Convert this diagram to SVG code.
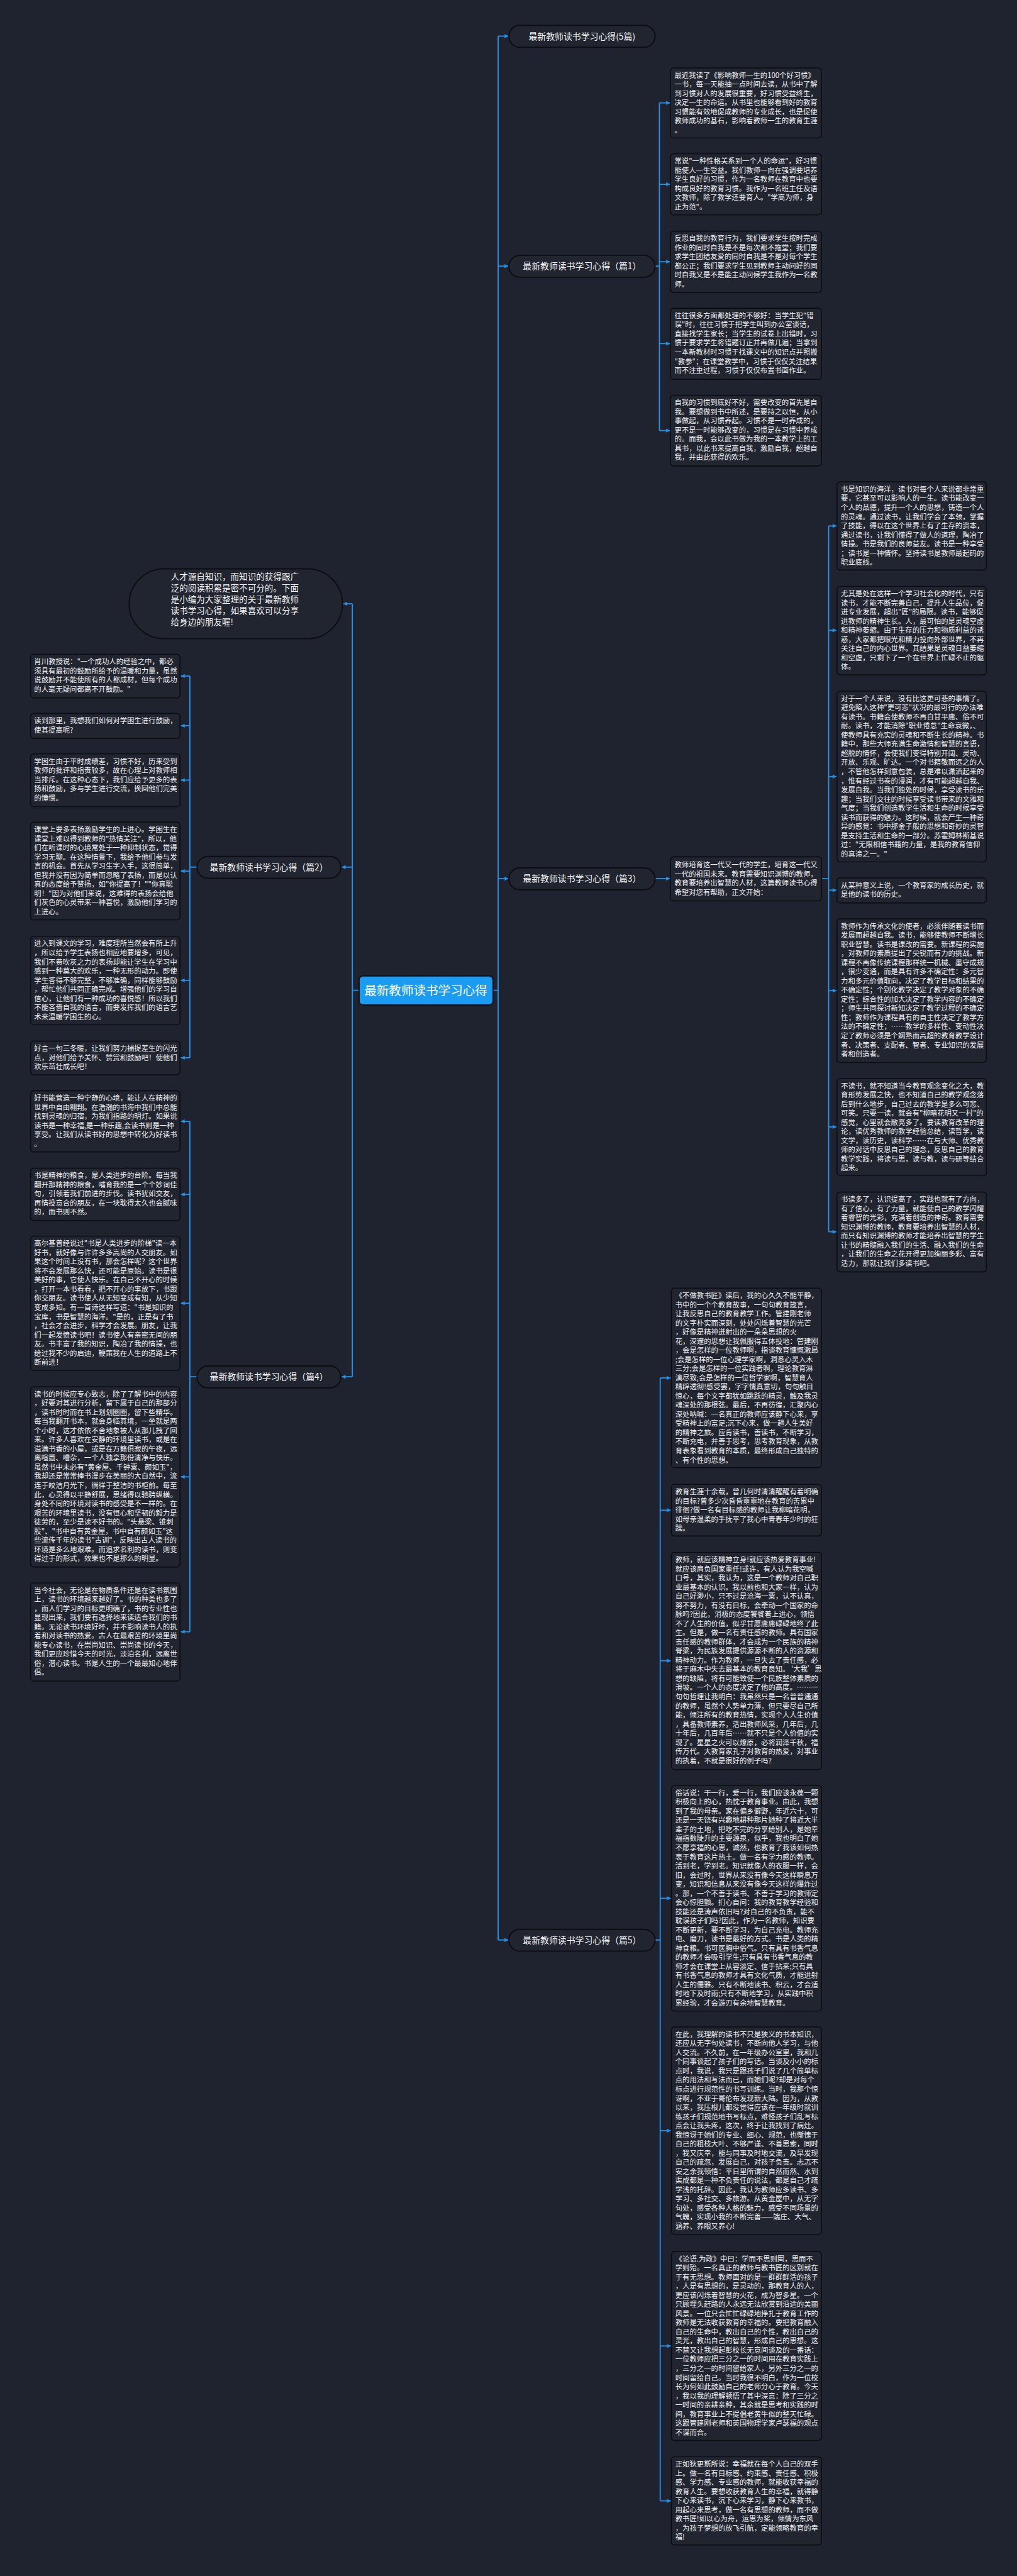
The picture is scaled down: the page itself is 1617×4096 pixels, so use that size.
<svg xmlns="http://www.w3.org/2000/svg" width="1617" height="4096" viewBox="0 0 1617 4096">
<defs>
<style>
.bg{fill:#1f2330}
.box{fill:#21252f;stroke:#0b0d12;stroke-width:2.5}
.pill{fill:#21252f;stroke:#0b0d12;stroke-width:3}
.t{font-family:"Noto Sans CJK SC","Noto Sans",sans-serif;font-size:18px;fill:#f2f3f5}
.it{font-family:"Noto Sans CJK SC","Noto Sans",sans-serif;font-size:21.5px;fill:#f2f3f5}
.lt{font-family:"Noto Sans CJK SC","Noto Sans",sans-serif;font-size:22px;fill:#f2f3f5;text-anchor:middle}
.ct{font-family:"Noto Sans CJK SC","Noto Sans",sans-serif;font-size:31px;fill:#ffffff;text-anchor:middle}
.conn{stroke:#2590e8;stroke-width:3;fill:none}
.arr{stroke:#2590e8;stroke-width:3;fill:none;marker-end:url(#ah)}
</style>
<marker id="ah" viewBox="0 0 10 10" refX="10" refY="5" markerWidth="12" markerHeight="10" markerUnits="userSpaceOnUse" orient="auto"><path d="M0,0 L10,5 L0,10 z" fill="#2590e8"/></marker>
</defs>
<rect class="bg" x="0" y="0" width="1617" height="4096"/>
<g transform="scale(0.6316)">

<g id="connectors">
<path class="conn" d="M904,2493 H887 M887,1520 V3466"/>
<path class="arr" d="M887,1520 H864"/>
<path class="arr" d="M887,2183 H860"/>
<path class="arr" d="M887,3466 H860"/>
<path class="conn" d="M1241,2493 H1254 M1254,91 V4884"/>
<path class="arr" d="M1254,91 H1280"/>
<path class="arr" d="M1254,670 H1280"/>
<path class="arr" d="M1254,2212 H1280"/>
<path class="arr" d="M1254,4884 H1280"/>
<path class="conn" d="M1649,670 H1660 M1660,259 V1084"/>
<path class="arr" d="M1660,259 H1687"/>
<path class="arr" d="M1660,464 H1687"/>
<path class="arr" d="M1660,659 H1687"/>
<path class="arr" d="M1660,865 H1687"/>
<path class="arr" d="M1660,1084 H1687"/>
<path class="arr" d="M1649,2212 H1687"/>
<path class="conn" d="M2068,2212 H2086 M2086,1324 V3101"/>
<path class="arr" d="M2086,1324 H2106"/>
<path class="arr" d="M2086,1587 H2106"/>
<path class="arr" d="M2086,1955 H2106"/>
<path class="arr" d="M2086,2241 H2106"/>
<path class="arr" d="M2086,2494 H2106"/>
<path class="arr" d="M2086,2837 H2106"/>
<path class="arr" d="M2086,3101 H2106"/>
<path class="conn" d="M1649,4884 H1662 M1662,3469 V6296"/>
<path class="arr" d="M1662,3469 H1689"/>
<path class="arr" d="M1662,3802 H1689"/>
<path class="arr" d="M1662,4181 H1689"/>
<path class="arr" d="M1662,4779 H1689"/>
<path class="arr" d="M1662,5364 H1689"/>
<path class="arr" d="M1662,5906 H1689"/>
<path class="arr" d="M1662,6296 H1689"/>
<path class="conn" d="M496,2183 H478 M478,1702 V2663"/>
<path class="arr" d="M478,1702 H455"/>
<path class="arr" d="M478,1827 H455"/>
<path class="arr" d="M478,1964 H455"/>
<path class="arr" d="M478,2193 H455"/>
<path class="arr" d="M478,2468 H455"/>
<path class="arr" d="M478,2663 H455"/>
<path class="conn" d="M496,3466 H478 M478,2823 V4108"/>
<path class="arr" d="M478,2823 H455"/>
<path class="arr" d="M478,3007 H455"/>
<path class="arr" d="M478,3281 H455"/>
<path class="arr" d="M478,3718 H455"/>
<path class="arr" d="M478,4108 H455"/>
</g>

<g id="center">
<rect x="904" y="2457" width="337" height="73" rx="10" fill="#1a9cf2" stroke="#0b0d12" stroke-width="3"/>
<text class="ct" x="1072" y="2504">最新教师读书学习心得</text>
</g>

<g id="intro">
<rect class="pill" x="325" y="1432" width="537" height="176" rx="88"/>
<text class="it" x="430" y="1460"><tspan x="430" dy="0">人才源自知识，而知识的获得跟广</tspan><tspan x="430" dy="28.3">泛的阅读积累是密不可分的。下面</tspan><tspan x="430" dy="28.3">是小编为大家整理的关于最新教师</tspan><tspan x="430" dy="28.3">读书学习心得，如果喜欢可以分享</tspan><tspan x="430" dy="28.3">给身边的朋友喔!</tspan></text>
</g>

<g id="label-5pian"><rect class="pill" x="1281" y="64" width="368" height="55" rx="27.5"/><text class="lt" x="1465" y="99">最新教师读书学习心得(5篇)</text></g>
<g id="label-p1"><rect class="pill" x="1281" y="643" width="368" height="55" rx="27.5"/><text class="lt" x="1465" y="678">最新教师读书学习心得（篇1）</text></g>
<g id="label-p3"><rect class="pill" x="1281" y="2185" width="368" height="55" rx="27.5"/><text class="lt" x="1465" y="2220">最新教师读书学习心得（篇3）</text></g>
<g id="label-p5"><rect class="pill" x="1281" y="4857" width="368" height="55" rx="27.5"/><text class="lt" x="1465" y="4892">最新教师读书学习心得（篇5）</text></g>
<g id="label-p2"><rect class="pill" x="496" y="2156" width="362" height="55" rx="27.5"/><text class="lt" x="677" y="2191">最新教师读书学习心得（篇2）</text></g>
<g id="label-p4"><rect class="pill" x="496" y="3439" width="362" height="55" rx="27.5"/><text class="lt" x="677" y="3474">最新教师读书学习心得（篇4）</text></g>

<g id="p1-1"><rect class="box" x="1688" y="171" width="380" height="176" rx="8"/><text class="t" x="1698" y="196"><tspan x="1698" dy="0">最近我读了《影响教师一生的100个好习惯》</tspan><tspan x="1698" dy="23">一书，每一天能抽一点时间去读，从书中了解</tspan><tspan x="1698" dy="23">到习惯对人的发展很重要，好习惯受益终生，</tspan><tspan x="1698" dy="23">决定一生的命运。从书里也能够看到好的教育</tspan><tspan x="1698" dy="23">习惯能有效地促成教师的专业成长，也是促使</tspan><tspan x="1698" dy="23">教师成功的基石，影响着教师一生的教育生涯</tspan><tspan x="1698" dy="23">。</tspan></text></g>
<g id="p1-2"><rect class="box" x="1688" y="387" width="380" height="154" rx="8"/><text class="t" x="1698" y="412"><tspan x="1698" dy="0">常说"一种性格关系到一个人的命运"，好习惯</tspan><tspan x="1698" dy="23">能使人一生受益。我们教师一向在强调要培养</tspan><tspan x="1698" dy="23">学生良好的习惯，作为一名教师在教育中也要</tspan><tspan x="1698" dy="23">构成良好的教育习惯。我作为一名班主任及语</tspan><tspan x="1698" dy="23">文教师，除了教学还要育人。"学高为师，身</tspan><tspan x="1698" dy="23">正为范"。</tspan></text></g>
<g id="p1-3"><rect class="box" x="1688" y="582" width="380" height="154" rx="8"/><text class="t" x="1698" y="607"><tspan x="1698" dy="0">反思自我的教育行为，我们要求学生按时完成</tspan><tspan x="1698" dy="23">作业的同时自我是不是每次都不拖堂；我们要</tspan><tspan x="1698" dy="23">求学生团结友爱的同时自我是不是对每个学生</tspan><tspan x="1698" dy="23">都公正；我们要求学生见到教师主动问好的同</tspan><tspan x="1698" dy="23">时自我又是不是能主动问候学生我作为一名教</tspan><tspan x="1698" dy="23">师。</tspan></text></g>
<g id="p1-4"><rect class="box" x="1688" y="776" width="380" height="179" rx="8"/><text class="t" x="1698" y="801"><tspan x="1698" dy="0">往往很多方面都处理的不够好：当学生犯"错</tspan><tspan x="1698" dy="23">误"时，往往习惯于把学生叫到办公室谈话，</tspan><tspan x="1698" dy="23">直接找学生家长；当学生的试卷上出错时，习</tspan><tspan x="1698" dy="23">惯于要求学生将错题订正并再做几遍；当拿到</tspan><tspan x="1698" dy="23">一本新教材时习惯于找课文中的知识点并照搬</tspan><tspan x="1698" dy="23">"教参"；在课堂教学中，习惯于仅仅关注结果</tspan><tspan x="1698" dy="23">而不注重过程，习惯于仅仅布置书面作业。</tspan></text></g>
<g id="p1-5"><rect class="box" x="1688" y="995" width="380" height="178" rx="8"/><text class="t" x="1698" y="1020"><tspan x="1698" dy="0">自我的习惯到底好不好，需要改变的首先是自</tspan><tspan x="1698" dy="23">我。要想做到书中所述，是要持之以恒，从小</tspan><tspan x="1698" dy="23">事做起，从习惯养起。习惯不是一时养成的，</tspan><tspan x="1698" dy="23">更不是一时能够改变的，习惯是在习惯中养成</tspan><tspan x="1698" dy="23">的。而我，会以此书做为我的一本教学上的工</tspan><tspan x="1698" dy="23">具书，以此书来提高自我，激励自我，超越自</tspan><tspan x="1698" dy="23">我，并由此获得的欢乐。</tspan></text></g>

<g id="p3-desc"><rect class="box" x="1688" y="2157" width="380" height="111" rx="8"/><text class="t" x="1698" y="2184"><tspan x="1698" dy="0">教师培育这一代又一代的学生，培育这一代又</tspan><tspan x="1698" dy="23">一代的祖国未来。教育需要知识渊博的教师，</tspan><tspan x="1698" dy="23">教育要培养出智慧的人材，这篇教师读书心得</tspan><tspan x="1698" dy="23">希望对您有帮助，正文开始：</tspan></text></g>

<g id="p3-1"><rect class="box" x="2107" y="1213" width="376" height="222" rx="8"/><text class="t" x="2117" y="1238"><tspan x="2117" dy="0">书是知识的海洋，读书对每个人来说都非常重</tspan><tspan x="2117" dy="23">要，它甚至可以影响人的一生。读书能改变一</tspan><tspan x="2117" dy="23">个人的品德，提升一个人的思想，铸造一个人</tspan><tspan x="2117" dy="23">的灵魂。通过读书，让我们学会了本领，掌握</tspan><tspan x="2117" dy="23">了技能，得以在这个世界上有了生存的资本，</tspan><tspan x="2117" dy="23">通过读书，让我们懂得了做人的道理，陶冶了</tspan><tspan x="2117" dy="23">情操。书是我们的良师益友。读书是一种享受</tspan><tspan x="2117" dy="23">；读书是一种情怀。坚持读书是教师最起码的</tspan><tspan x="2117" dy="23">职业底线。</tspan></text></g>
<g id="p3-2"><rect class="box" x="2107" y="1476" width="376" height="223" rx="8"/><text class="t" x="2117" y="1501"><tspan x="2117" dy="0">尤其是处在这样一个学习社会化的时代，只有</tspan><tspan x="2117" dy="23">读书，才能不断完善自己，提升人生品位，促</tspan><tspan x="2117" dy="23">进专业发展，超出"匠"的局限。读书，能够促</tspan><tspan x="2117" dy="23">进教师的精神生长。人，最可怕的是灵魂空虚</tspan><tspan x="2117" dy="23">和精神萎缩。由于生存的压力和物质利益的诱</tspan><tspan x="2117" dy="23">惑，大家都把眼光和精力投向外部世界，不再</tspan><tspan x="2117" dy="23">关注自己的内心世界。其结果是灵魂日益萎缩</tspan><tspan x="2117" dy="23">和空虚，只剩下了一个在世界上忙碌不止的躯</tspan><tspan x="2117" dy="23">体。</tspan></text></g>
<g id="p3-3"><rect class="box" x="2107" y="1740" width="376" height="430" rx="8"/><text class="t" x="2117" y="1765"><tspan x="2117" dy="0">对于一个人来说，没有比这更可悲的事情了。</tspan><tspan x="2117" dy="23">避免陷入这种"更可悲"状况的最可行的办法唯</tspan><tspan x="2117" dy="23">有读书。书籍会使教师不再自甘平庸、俗不可</tspan><tspan x="2117" dy="23">耐。读书，才能消除"职业倦怠"生命衰微，、</tspan><tspan x="2117" dy="23">使教师具有充实的灵魂和不断生长的精神。书</tspan><tspan x="2117" dy="23">籍中，那些大师充满生命激情和智慧的言语，</tspan><tspan x="2117" dy="23">超脱的情怀，会使我们变得特别开阔、灵动、</tspan><tspan x="2117" dy="23">开放、乐观、旷达。一个对书籍敬而远之的人</tspan><tspan x="2117" dy="23">，不管他怎样刻意包装，总是难以潇洒起来的</tspan><tspan x="2117" dy="23">，惟有经过书卷的浸润，才有可能超越自我、</tspan><tspan x="2117" dy="23">发展自我。当我们独处的时候，享受读书的乐</tspan><tspan x="2117" dy="23">趣；当我们交往的时候享受读书带来的文雅和</tspan><tspan x="2117" dy="23">气度；当我们创造教学生活和生命的时候享受</tspan><tspan x="2117" dy="23">读书而获得的魅力。这时候，就会产生一种奇</tspan><tspan x="2117" dy="23">异的感觉：书中那金子般的思想和奇妙的灵智</tspan><tspan x="2117" dy="23">是支持生活和生命的一部分。苏霍姆林斯基说</tspan><tspan x="2117" dy="23">过："无限相信书籍的力量，是我的教育信仰</tspan><tspan x="2117" dy="23">的真谛之一。"</tspan></text></g>
<g id="p3-4"><rect class="box" x="2107" y="2210" width="376" height="63" rx="8"/><text class="t" x="2117" y="2235"><tspan x="2117" dy="0">从某种意义上说，一个教育家的成长历史，就</tspan><tspan x="2117" dy="23">是他的读书的历史。</tspan></text></g>
<g id="p3-5"><rect class="box" x="2107" y="2313" width="376" height="362" rx="8"/><text class="t" x="2117" y="2338"><tspan x="2117" dy="0">教师作为传承文化的使者，必须伴随着读书而</tspan><tspan x="2117" dy="23">发展而超越自我。读书，能够使教师不断增长</tspan><tspan x="2117" dy="23">职业智慧。读书是课改的需要。新课程的实施</tspan><tspan x="2117" dy="23">，对教师的素质提出了尖锐而有力的挑战。新</tspan><tspan x="2117" dy="23">课程不再像传统课程那样统一机械、墨守成规</tspan><tspan x="2117" dy="23">，很少变通，而是具有许多不确定性：多元智</tspan><tspan x="2117" dy="23">力和多元价值取向，决定了教学目标和结果的</tspan><tspan x="2117" dy="23">不确定性；个别化教学决定了教学对象的不确</tspan><tspan x="2117" dy="23">定性；综合性的加大决定了教学内容的不确定</tspan><tspan x="2117" dy="23">；师生共同探讨新知决定了教学过程的不确定</tspan><tspan x="2117" dy="23">性；教师作为课程具有的自主性决定了教学方</tspan><tspan x="2117" dy="23">法的不确定性；……教学的多样性、变动性决</tspan><tspan x="2117" dy="23">定了教师必须是个娴熟而高超的教育教学设计</tspan><tspan x="2117" dy="23">者、决策者、支配者、智者、专业知识的发展</tspan><tspan x="2117" dy="23">者和创造者。</tspan></text></g>
<g id="p3-6"><rect class="box" x="2107" y="2715" width="376" height="245" rx="8"/><text class="t" x="2117" y="2740"><tspan x="2117" dy="0">不读书，就不知道当今教育观念变化之大，教</tspan><tspan x="2117" dy="23">育形势发展之快，也不知道自己的教学观念落</tspan><tspan x="2117" dy="23">后到什么地步，自己过去的教学是多么可悲、</tspan><tspan x="2117" dy="23">可笑。只要一读，就会有"柳暗花明又一村"的</tspan><tspan x="2117" dy="23">感觉，心里就会敞亮多了。要读教育改革的理</tspan><tspan x="2117" dy="23">论，读优秀教师的教学经验总结，读哲学，读</tspan><tspan x="2117" dy="23">文学，读历史，读科学……在与大师、优秀教</tspan><tspan x="2117" dy="23">师的对话中反思自己的理念，反思自己的教育</tspan><tspan x="2117" dy="23">教学实践，将读与思，读与教，读与研等结合</tspan><tspan x="2117" dy="23">起来。</tspan></text></g>
<g id="p3-7"><rect class="box" x="2107" y="3001" width="376" height="201" rx="8"/><text class="t" x="2117" y="3026"><tspan x="2117" dy="0">书读多了，认识提高了，实践也就有了方向，</tspan><tspan x="2117" dy="23">有了信心，有了力量，就能使自己的教学闪耀</tspan><tspan x="2117" dy="23">着睿智的光彩，充满着创造的神奇。教育需要</tspan><tspan x="2117" dy="23">知识渊博的教师，教育要培养出智慧的人材，</tspan><tspan x="2117" dy="23">而只有知识渊博的教师才能培养出智慧的学生</tspan><tspan x="2117" dy="23">让书的精髓融入我们的生活、融入我们的生命</tspan><tspan x="2117" dy="23">，让我们的生命之花开得更加绚丽多彩、富有</tspan><tspan x="2117" dy="23">活力，那就让我们多读书吧。</tspan></text></g>

<g id="p5-1"><rect class="box" x="1690" y="3243" width="378" height="452" rx="8"/><text class="t" x="1700" y="3268"><tspan x="1700" dy="0">《不做教书匠》读后，我的心久久不能平静，</tspan><tspan x="1700" dy="23">书中的一个个教育故事，一句句教育箴言，</tspan><tspan x="1700" dy="23">让我反思自己的教育教学工作。管建刚老师</tspan><tspan x="1700" dy="23">的文字朴实而深刻，处处闪烁着智慧的光芒</tspan><tspan x="1700" dy="23">，好像是精神迸射出的一朵朵思想的火</tspan><tspan x="1700" dy="23">花，深邃的思想让我佩服得五体投地：管建刚</tspan><tspan x="1700" dy="23">，会是怎样的一位教师啊，指谈教育慷慨激昂</tspan><tspan x="1700" dy="23">;会是怎样的一位心理学家啊，洞悉心灵入木</tspan><tspan x="1700" dy="23">三分;会是怎样的一位实践者啊，理论教育淋</tspan><tspan x="1700" dy="23">漓尽致;会是怎样的一位哲学家啊，智慧育人</tspan><tspan x="1700" dy="23">精辟透彻!感受罢，字字情真意切，句句触目</tspan><tspan x="1700" dy="23">惊心，每个文字都犹如跳跃的精灵，触及我灵</tspan><tspan x="1700" dy="23">魂深处的那根弦。最后，不再彷徨，汇聚内心</tspan><tspan x="1700" dy="23">深处呐喊：一名真正的教师应该静下心来，享</tspan><tspan x="1700" dy="23">受精神上的富足;沉下心来，做一趟人生美好</tspan><tspan x="1700" dy="23">的精神之旅。应肯读书，善读书，不断学习，</tspan><tspan x="1700" dy="23">不断充电，并善于思考，思考教育现象，从教</tspan><tspan x="1700" dy="23">育表象看到教育的本质，最终形成自己独特的</tspan><tspan x="1700" dy="23">、有个性的思想。</tspan></text></g>
<g id="p5-2"><rect class="box" x="1690" y="3737" width="378" height="130" rx="8"/><text class="t" x="1700" y="3762"><tspan x="1700" dy="0">教育生涯十余载，曾几何时清清醒醒有着明确</tspan><tspan x="1700" dy="23">的目标?曾多少次昏昏噩噩地在教育的苦累中</tspan><tspan x="1700" dy="23">徘徊?做一名有目标感的教师让我柳暗花明，</tspan><tspan x="1700" dy="23">如母亲温柔的手抚平了我心中青春年少时的狂</tspan><tspan x="1700" dy="23">躁。</tspan></text></g>
<g id="p5-3"><rect class="box" x="1690" y="3908" width="378" height="547" rx="8"/><text class="t" x="1700" y="3933"><tspan x="1700" dy="0">教师，就应该精神立身!就应该热爱教育事业!</tspan><tspan x="1700" dy="23">就应该肩负国家重任!或许，有人认为我空喊</tspan><tspan x="1700" dy="23">口号，其实，我认为，这是一个教师对自己职</tspan><tspan x="1700" dy="23">业最基本的认识。我以前也和大家一样，认为</tspan><tspan x="1700" dy="23">自己好渺小，只不过是沧海一粟，认不认真，</tspan><tspan x="1700" dy="23">努不努力，有没有目标，会牵动一个国家的命</tspan><tspan x="1700" dy="23">脉吗?因此，消极的态度饕餮着上进心，领悟</tspan><tspan x="1700" dy="23">不了人生的价值，似乎甘愿庸庸碌碌地终了此</tspan><tspan x="1700" dy="23">生。但是，做一名有责任感的教师。具有国家</tspan><tspan x="1700" dy="23">责任感的教师群体，才会成为一个民族的精神</tspan><tspan x="1700" dy="23">脊梁，为民族发展提供源源不断的人的资源和</tspan><tspan x="1700" dy="23">精神动力。作为教师，一旦失去了责任感，必</tspan><tspan x="1700" dy="23">将于麻木中失去最基本的教育良知。‘大我’思</tspan><tspan x="1700" dy="23">想的缺陷，将有可能致使一个民族整体素质的</tspan><tspan x="1700" dy="23">滑坡。一个人的态度决定了他的高度。……一</tspan><tspan x="1700" dy="23">句句哲理让我明白：我虽然只是一名普普通通</tspan><tspan x="1700" dy="23">的教师，虽然个人势单力薄，但只要尽自己所</tspan><tspan x="1700" dy="23">能，倾注所有的教育热情，实现个人人生价值</tspan><tspan x="1700" dy="23">，具备教师素养，活出教师风采，几年后，几</tspan><tspan x="1700" dy="23">十年后，几百年后……就不只是个人价值的实</tspan><tspan x="1700" dy="23">现了。星星之火可以燎原，必将润泽千秋，福</tspan><tspan x="1700" dy="23">传万代。大教育家孔子对教育的热爱，对事业</tspan><tspan x="1700" dy="23">的执着，不就是很好的例子吗?</tspan></text></g>
<g id="p5-4"><rect class="box" x="1690" y="4495" width="378" height="568" rx="8"/><text class="t" x="1700" y="4520"><tspan x="1700" dy="0">俗话说：干一行，爱一行，我们应该永葆一颗</tspan><tspan x="1700" dy="23">积极向上的心，热忱于教育事业。由此，我想</tspan><tspan x="1700" dy="23">到了我的母亲。家在偏乡僻野，年近六十，可</tspan><tspan x="1700" dy="23">还是一天饶有兴趣地耕种那片她种了将近大半</tspan><tspan x="1700" dy="23">辈子的土地，把吃不完的分享给别人，是她幸</tspan><tspan x="1700" dy="23">福指数陡升的主要源泉，似乎，我也明白了她</tspan><tspan x="1700" dy="23">不愿享福的心思，诚然，也教育了我该如何热</tspan><tspan x="1700" dy="23">衷于教育这片热土。做一名有学力感的教师。</tspan><tspan x="1700" dy="23">活到老，学到老。知识就像人的衣服一样，会</tspan><tspan x="1700" dy="23">旧，会过时，世界从来没有像今天这样瞬息万</tspan><tspan x="1700" dy="23">变，知识和信息从来没有像今天这样的爆炸过</tspan><tspan x="1700" dy="23">。那，一个不善于读书、不善于学习的教师定</tspan><tspan x="1700" dy="23">会心惊胆颤。扪心自问：我的教育教学经验和</tspan><tspan x="1700" dy="23">技能还是涛声依旧吗?对自己的不负责，能不</tspan><tspan x="1700" dy="23">耽误孩子们吗?因此，作为一名教师，知识要</tspan><tspan x="1700" dy="23">不断更新，要不断学习，为自己充电。教师充</tspan><tspan x="1700" dy="23">电、磨刀，读书是最好的方式。书是人类的精</tspan><tspan x="1700" dy="23">神食粮。书可医胸中俗气。只有具有书香气息</tspan><tspan x="1700" dy="23">的教师才会吸引学生;只有具有书香气息的教</tspan><tspan x="1700" dy="23">师才会在课堂上从容淡定、信手拈来;只有具</tspan><tspan x="1700" dy="23">有书香气息的教师才具有文化气质，才能进射</tspan><tspan x="1700" dy="23">人生的儒雅。只有不断地读书、积云，才会适</tspan><tspan x="1700" dy="23">时地下及时雨;只有不断地学习，从实践中积</tspan><tspan x="1700" dy="23">累经验，才会游刃有余地智慧教育。</tspan></text></g>
<g id="p5-5"><rect class="box" x="1690" y="5103" width="378" height="522" rx="8"/><text class="t" x="1700" y="5128"><tspan x="1700" dy="0">在此，我理解的读书不只是狭义的书本知识，</tspan><tspan x="1700" dy="23">还应从无字句处读书，不断向他人学习，与他</tspan><tspan x="1700" dy="23">人交流。不久前，在一年级办公室里，我和几</tspan><tspan x="1700" dy="23">个同事谈起了孩子们的写话。当谈及小小的标</tspan><tspan x="1700" dy="23">点时，我说，我只是跟孩子们说了几个简单标</tspan><tspan x="1700" dy="23">点的用法和写法而已，而她们呢?却是对每个</tspan><tspan x="1700" dy="23">标点进行规范性的书写训练。当时，我那个惊</tspan><tspan x="1700" dy="23">讶啊，不亚于哥伦布发现新大陆。因为，从教</tspan><tspan x="1700" dy="23">以来，我压根儿都没觉得应该在一年级时就训</tspan><tspan x="1700" dy="23">练孩子们规范地书写标点，难怪孩子们乱写标</tspan><tspan x="1700" dy="23">点会让我头疼，这次，终于让我找到了病灶。</tspan><tspan x="1700" dy="23">我惊讶于她们的专业、细心、规范，也惭愧于</tspan><tspan x="1700" dy="23">自己的粗枝大叶、不够严谨、不善思索，同时</tspan><tspan x="1700" dy="23">，我又庆幸，能与同事及时地交流，及早发现</tspan><tspan x="1700" dy="23">自己的疏忽，发展自己，对孩子负责。忐忑不</tspan><tspan x="1700" dy="23">安之余我顿悟：平日里所谓的自然而然、水到</tspan><tspan x="1700" dy="23">渠成都是一种不负责任的说法，都是自己才疏</tspan><tspan x="1700" dy="23">学浅的托辞。因此，我认为教师应多读书、多</tspan><tspan x="1700" dy="23">学习、多社交、多旅游。从黄金屋中，从无字</tspan><tspan x="1700" dy="23">句处，感受各种人格的魅力，感受不同场景的</tspan><tspan x="1700" dy="23">气魄，实现小我的不断完善——端庄、大气、</tspan><tspan x="1700" dy="23">涵养、养眼又养心!</tspan></text></g>
<g id="p5-6"><rect class="box" x="1690" y="5668" width="378" height="476" rx="8"/><text class="t" x="1700" y="5693"><tspan x="1700" dy="0">《论语.为政》中曰：学而不思则罔，思而不</tspan><tspan x="1700" dy="23">学则殆。一名真正的教师与教书匠的区别就在</tspan><tspan x="1700" dy="23">于有无思想。教师面对的是一群群鲜活的孩子</tspan><tspan x="1700" dy="23">，人是有思想的，是灵动的，那教育人的人，</tspan><tspan x="1700" dy="23">更应该闪烁着智慧的火花，成为智多星。一个</tspan><tspan x="1700" dy="23">只顾埋头赶路的人永远无法欣赏到沿途的美丽</tspan><tspan x="1700" dy="23">风景。一位只会忙忙碌碌地挣扎于教育工作的</tspan><tspan x="1700" dy="23">教师是无法收获教育的幸福的。要把教育融入</tspan><tspan x="1700" dy="23">自己的生命中，教出自己的个性，教出自己的</tspan><tspan x="1700" dy="23">灵光，教出自己的智慧，形成自己的思想。这</tspan><tspan x="1700" dy="23">不禁又让我想起彭校长无意间谈及的一番话：</tspan><tspan x="1700" dy="23">一位教师应把三分之一的时间用在教育实践上</tspan><tspan x="1700" dy="23">，三分之一的时间留给家人，另外三分之一的</tspan><tspan x="1700" dy="23">时间留给自己。当时我很不明白，作为一位校</tspan><tspan x="1700" dy="23">长为何如此鼓励自己的老师分心于教育。今天</tspan><tspan x="1700" dy="23">，我以我的理解顿悟了其中深意：除了三分之</tspan><tspan x="1700" dy="23">一时间的亲耕亲种，其余就是思考和实践的时</tspan><tspan x="1700" dy="23">间，教育事业上不提倡老黄牛似的整天忙碌。</tspan><tspan x="1700" dy="23">这跟管建刚老师和英国物理学家卢瑟福的观点</tspan><tspan x="1700" dy="23">不谋而合。</tspan></text></g>
<g id="p5-7"><rect class="box" x="1690" y="6185" width="378" height="222" rx="8"/><text class="t" x="1700" y="6210"><tspan x="1700" dy="0">正如狄更斯所说：幸福就在每个人自己的双手</tspan><tspan x="1700" dy="23">上。做一名有目标感、约束感、责任感、积极</tspan><tspan x="1700" dy="23">感、学力感、专业感的教师，就能收获幸福的</tspan><tspan x="1700" dy="23">教育人生。要想收获教育人生的幸福，就得静</tspan><tspan x="1700" dy="23">下心来读书，沉下心来学习，静下心来教书，</tspan><tspan x="1700" dy="23">用起心来思考，做一名有思想的教师，而不做</tspan><tspan x="1700" dy="23">教书匠!如以心为舟，运思为桨，倾情为东风</tspan><tspan x="1700" dy="23">，为孩子梦想的放飞引航，定能领略教育的幸</tspan><tspan x="1700" dy="23">福!</tspan></text></g>

<g id="p2-1"><rect class="box" x="77" y="1647" width="376" height="110" rx="8"/><text class="t" x="86" y="1672"><tspan x="86" dy="0">肖川教授说："一个成功人的经验之中，都必</tspan><tspan x="86" dy="23">须具有最初的鼓励所给予的温暖和力量，虽然</tspan><tspan x="86" dy="23">说鼓励并不能使所有的人都成材，但每个成功</tspan><tspan x="86" dy="23">的人毫无疑问都离不开鼓励。"</tspan></text></g>
<g id="p2-2"><rect class="box" x="77" y="1796" width="376" height="63" rx="8"/><text class="t" x="86" y="1821"><tspan x="86" dy="0">读到那里，我想我们如何对学困生进行鼓励，</tspan><tspan x="86" dy="23">使其提高呢?</tspan></text></g>
<g id="p2-3"><rect class="box" x="77" y="1898" width="376" height="133" rx="8"/><text class="t" x="86" y="1923"><tspan x="86" dy="0">学困生由于平时成绩差，习惯不好，历来受到</tspan><tspan x="86" dy="23">教师的批评和指责较多，故在心理上对教师相</tspan><tspan x="86" dy="23">当排斥。在这种心态下，我们应给予更多的表</tspan><tspan x="86" dy="23">扬和鼓励，多与学生进行交流，换回他们完美</tspan><tspan x="86" dy="23">的憧憬。</tspan></text></g>
<g id="p2-4"><rect class="box" x="77" y="2070" width="376" height="246" rx="8"/><text class="t" x="86" y="2095"><tspan x="86" dy="0">课堂上要多表扬激励学生的上进心。学困生在</tspan><tspan x="86" dy="23">课堂上难以得到教师的"热情关注"，所以，他</tspan><tspan x="86" dy="23">们在听课时的心境常处于一种抑制状态，觉得</tspan><tspan x="86" dy="23">学习无聊。在这种情景下，我给予他们参与发</tspan><tspan x="86" dy="23">言的机会。首先从学习生字入手，这很简单，</tspan><tspan x="86" dy="23">但我并没有因为简单而忽略了表扬，而是以认</tspan><tspan x="86" dy="23">真的态度给予赞扬，如"你提高了！""你真聪</tspan><tspan x="86" dy="23">明！"因为对他们来说，这难得的表扬会给他</tspan><tspan x="86" dy="23">们灰色的心灵带来一种喜悦，激励他们学习的</tspan><tspan x="86" dy="23">上进心。</tspan></text></g>
<g id="p2-5"><rect class="box" x="77" y="2357" width="376" height="223" rx="8"/><text class="t" x="86" y="2382"><tspan x="86" dy="0">进入到课文的学习，难度理所当然会有所上升</tspan><tspan x="86" dy="23">，所以给予学生表扬也相应地要增多，可见，</tspan><tspan x="86" dy="23">我们不费吹灰之力的表扬却能让学生在学习中</tspan><tspan x="86" dy="23">感到一种莫大的欢乐，一种无形的动力。即使</tspan><tspan x="86" dy="23">学生答得不够完整，不够准确，同样能够鼓励</tspan><tspan x="86" dy="23">，帮忙他们共同正确完成。增强他们的学习自</tspan><tspan x="86" dy="23">信心，让他们有一种成功的喜悦感！所以我们</tspan><tspan x="86" dy="23">不能吝啬自我的语言，而要发挥我们的语言艺</tspan><tspan x="86" dy="23">术来温暖学困生的心。</tspan></text></g>
<g id="p2-6"><rect class="box" x="77" y="2621" width="376" height="85" rx="8"/><text class="t" x="86" y="2646"><tspan x="86" dy="0">好言一句三冬暖，让我们努力捕捉差生的闪光</tspan><tspan x="86" dy="23">点，对他们给予关怀、赞赏和鼓励吧！使他们</tspan><tspan x="86" dy="23">欢乐茁壮成长吧！</tspan></text></g>

<g id="p4-1"><rect class="box" x="77" y="2746" width="376" height="154" rx="8"/><text class="t" x="86" y="2771"><tspan x="86" dy="0">好书能营造一种宁静的心境，能让人在精神的</tspan><tspan x="86" dy="23">世界中自由翱翔。在浩瀚的书海中我们中总能</tspan><tspan x="86" dy="23">找到灵魂的归宿，为我们指路的明灯。如果说</tspan><tspan x="86" dy="23">读书是一种幸福,是一种乐趣,会读书则是一种</tspan><tspan x="86" dy="23">享受。让我们从读书好的思想中转化为好读书</tspan><tspan x="86" dy="23">。</tspan></text></g>
<g id="p4-2"><rect class="box" x="77" y="2941" width="376" height="132" rx="8"/><text class="t" x="86" y="2966"><tspan x="86" dy="0">书是精神的粮食，是人类进步的台阶。每当我</tspan><tspan x="86" dy="23">翻开那精神的粮食，哺育我的是一个个妙词佳</tspan><tspan x="86" dy="23">句，引领着我们前进的步伐。读书犹如交友，</tspan><tspan x="86" dy="23">再情投意合的朋友，在一块耽得太久也会腻味</tspan><tspan x="86" dy="23">的，而书则不然。</tspan></text></g>
<g id="p4-3"><rect class="box" x="77" y="3112" width="376" height="338" rx="8"/><text class="t" x="86" y="3137"><tspan x="86" dy="0">高尔基曾经说过"书是人类进步的阶梯"读一本</tspan><tspan x="86" dy="23">好书，就好像与许许多多高尚的人交朋友。如</tspan><tspan x="86" dy="23">果这个时间上没有书，那会怎样呢？这个世界</tspan><tspan x="86" dy="23">将不会发展那么快，还可能是原始。读书是很</tspan><tspan x="86" dy="23">美好的事，它使人快乐。在自己不开心的时候</tspan><tspan x="86" dy="23">，打开一本书看看，把不开心的事放下，书跟</tspan><tspan x="86" dy="23">你交朋友。读书使人从无知变成有知，从少知</tspan><tspan x="86" dy="23">变成多知。有一首诗这样写道："书是知识的</tspan><tspan x="86" dy="23">宝库，书是智慧的海洋。"是的，正是有了书</tspan><tspan x="86" dy="23">，社会才会进步，科学才会发展。朋友，让我</tspan><tspan x="86" dy="23">们一起发愤读书吧！读书使人有亲密无间的朋</tspan><tspan x="86" dy="23">友。书丰富了我的知识，陶冶了我的情操，也</tspan><tspan x="86" dy="23">给过我不少的启迪，鞭策我在人生的道路上不</tspan><tspan x="86" dy="23">断前进！</tspan></text></g>
<g id="p4-4"><rect class="box" x="77" y="3491" width="376" height="454" rx="8"/><text class="t" x="86" y="3516"><tspan x="86" dy="0">读书的时候应专心致志，除了了解书中的内容</tspan><tspan x="86" dy="23">，好要对其进行分析，留下属于自己的那部分</tspan><tspan x="86" dy="23">，读书时时而在书上划划圈圈，留下些精华。</tspan><tspan x="86" dy="23">每当我翻开书本，就会身临其境，一坐就是两</tspan><tspan x="86" dy="23">个小时，这才依依不舍地象被人从那儿拽了回</tspan><tspan x="86" dy="23">来。许多人喜欢在安静的环境里读书，或是在</tspan><tspan x="86" dy="23">溢满书香的小屋，或是在万籁俱寂的午夜，远</tspan><tspan x="86" dy="23">离喧嚣、嘈杂，一个人独享那份清净与快乐。</tspan><tspan x="86" dy="23">虽然书中未必有"黄金屋、千钟粟、颜如玉"，</tspan><tspan x="86" dy="23">我却还是常常捧书漫步在美丽的大自然中，流</tspan><tspan x="86" dy="23">连于皎洁月光下，徜徉于整洁的书柜前。每至</tspan><tspan x="86" dy="23">此，心灵得以平静舒展，思绪得以驰骋纵横。</tspan><tspan x="86" dy="23">身处不同的环境对读书的感受是不一样的。在</tspan><tspan x="86" dy="23">艰苦的环境里读书，没有恒心和坚韧的毅力是</tspan><tspan x="86" dy="23">徒劳的，至少是读不好书的。"头悬梁、锥刺</tspan><tspan x="86" dy="23">股"、"书中自有黄金屋，书中自有颜如玉"这</tspan><tspan x="86" dy="23">些流传千年的读书"古训"，反映出古人读书的</tspan><tspan x="86" dy="23">环境是多么地艰难。而追求名利的读书，则变</tspan><tspan x="86" dy="23">得过于的形式，效果也不是那么的明显。</tspan></text></g>
<g id="p4-5"><rect class="box" x="77" y="3985" width="376" height="247" rx="8"/><text class="t" x="86" y="4010"><tspan x="86" dy="0">当今社会，无论是在物质条件还是在读书氛围</tspan><tspan x="86" dy="23">上，读书的环境越来越好了。书的种类也多了</tspan><tspan x="86" dy="23">，而人们学习的目标更明确了，书的专业性也</tspan><tspan x="86" dy="23">显现出来，我们要有选择地来读适合我们的书</tspan><tspan x="86" dy="23">籍。无论读书环境好坏，并不影响读书人的执</tspan><tspan x="86" dy="23">着和对读书的热爱。古人在最艰苦的环境里尚</tspan><tspan x="86" dy="23">能专心读书，在崇尚知识、崇尚读书的今天，</tspan><tspan x="86" dy="23">我们更应珍惜今天的时光，淡泊名利，远离世</tspan><tspan x="86" dy="23">俗，潜心读书。书是人生的一个最最知心地伴</tspan><tspan x="86" dy="23">侣。</tspan></text></g>
</g>
</svg>
